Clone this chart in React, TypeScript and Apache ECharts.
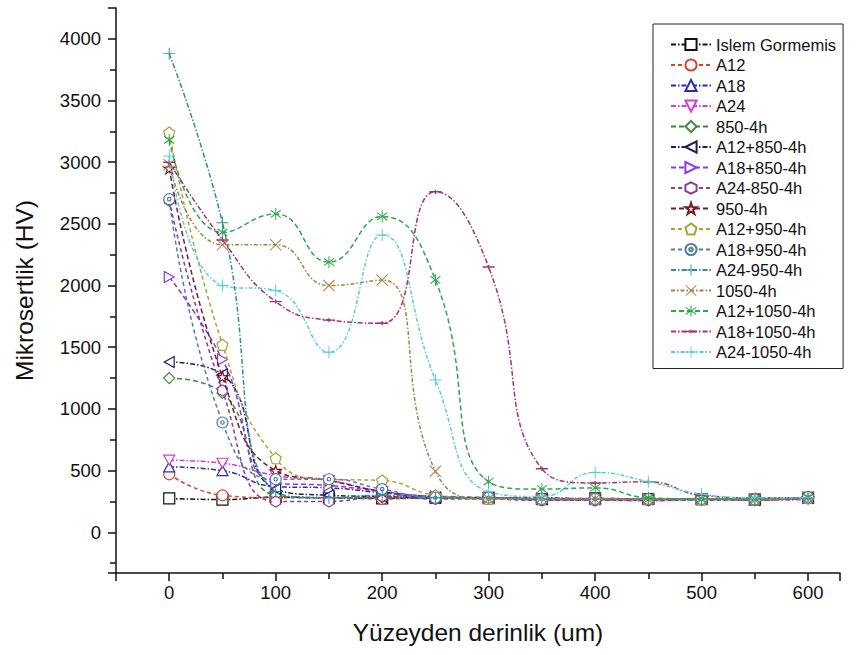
import React, { useEffect, useRef } from "react";
import * as echarts from "echarts";

// ---- data ----
const depths = [0, 50, 100, 150, 200, 250, 300, 350, 400, 450, 500, 550, 600];

const islemGormemis = [275, 265, 285, 280, 275, 280, 280, 270, 275, 270, 270, 265, 280];
const a12 = [470, 300, 280, 280, 270, 280, 270, 260, 260, 260, 270, 270, 280];
const a18 = [530, 500, 370, 360, 320, 290, 280, 280, 270, 270, 270, 265, 280];
const a24 = [585, 560, 460, 420, 330, 280, 280, 260, 260, 255, 265, 260, 265];
const t850 = [1250, 1130, 300, 280, 280, 290, 280, 270, 270, 265, 270, 270, 285];
const a12t850 = [1380, 1280, 350, 300, 290, 280, 280, 270, 270, 270, 270, 265, 280];
const a18t850 = [2070, 1400, 400, 380, 330, 290, 280, 270, 270, 270, 265, 265, 280];
const a24t850 = [2690, 1150, 250, 250, 290, 270, 270, 260, 260, 260, 260, 260, 280];
const t950 = [2950, 1260, 500, 420, 330, 280, 280, 270, 270, 270, 270, 265, 280];
const a12t950 = [3240, 1520, 600, 430, 420, 300, 270, 270, 270, 270, 265, 265, 280];
const a18t950 = [2700, 890, 430, 430, 350, 280, 280, 270, 270, 270, 270, 265, 285];
const a24t950 = [3880, 2510, 330, 280, 300, 280, 280, 270, 270, 270, 270, 270, 280];
const t1050 = [2980, 2330, 2330, 2000, 2045, 495, 270, 280, 270, 270, 270, 265, 280];
const a12t1050 = [3180, 2430, 2580, 2190, 2560, 2045, 410, 350, 360, 280, 270, 270, 280];
const a18t1050 = [3000, 2370, 1870, 1720, 1695, 2760, 2150, 515, 400, 410, 300, 280, 280];
const a24t1050 = [3050, 2000, 1960, 1460, 2410, 1235, 330, 290, 485, 410, 310, 280, 280];

const seriesNames = [
  "Islem Gormemis", "A12", "A18", "A24", "850-4h", "A12+850-4h", "A18+850-4h",
  "A24-850-4h", "950-4h", "A12+950-4h", "A18+950-4h", "A24-950-4h", "1050-4h",
  "A12+1050-4h", "A18+1050-4h", "A24-1050-4h",
];
const seriesValues = [
  islemGormemis, a12, a18, a24, t850, a12t850, a18t850, a24t850, t950, a12t950,
  a18t950, a24t950, t1050, a12t1050, a18t1050, a24t1050,
];

// ---- styles ----
const colors = [
  "#111111", "#d9442b", "#2b2bb5", "#d63bd6", "#3d8a3d", "#1c1c5e", "#8a3be0",
  "#8b3aa0", "#7a1a2a", "#a9a335", "#4d7ea8", "#2f8f9d", "#b07d45", "#2aa84a",
  "#a8336e", "#4fcfd8",
];

// tiny corner dots keep the symbol's bounding box square
const BOX = "M0,0 L0.01,0 L0.01,0.01 Z M9.99,9.99 L10,9.99 L10,10 Z ";
const P = {
  square: "path://M0,0 L10,0 L10,10 L0,10 Z",
  circle: "path://M10,5 A5,5 0 1 1 0,5 A5,5 0 1 1 10,5 Z",
  triUp: "path://M5,0 L10,9 L0,9 Z",
  triDown: "path://M0,0 L10,0 L5,9 Z",
  diamond: "path://M5,0 L10,5 L5,10 L0,5 Z",
  triLeft: "path://M0,5 L9,0 L9,10 Z",
  triRight: "path://M0,0 L9,5 L0,10 Z",
  hexagon: "path://M5,0 L9.33,2.5 L9.33,7.5 L5,10 L0.67,7.5 L0.67,2.5 Z",
  star: "path://M5,0 L6.2,3.6 L10,3.6 L6.9,5.9 L8.1,9.5 L5,7.3 L1.9,9.5 L3.1,5.9 L0,3.6 L3.8,3.6 Z",
  pentagon: "path://M5,0 L10,3.8 L8.1,10 L1.9,10 L0,3.8 Z",
  dotCircle: "path://M10,5 A5,5 0 1 1 0,5 A5,5 0 1 1 10,5 Z M6.6,5 A1.6,1.6 0 1 1 3.4,5 A1.6,1.6 0 1 1 6.6,5 Z",
  plus: "path://M4.6,0 L5.4,0 L5.4,4.6 L10,4.6 L10,5.4 L5.4,5.4 L5.4,10 L4.6,10 L4.6,5.4 L0,5.4 L0,4.6 L4.6,4.6 Z",
  cross: "path://M0.6,0 L5,4.4 L9.4,0 L10,0.6 L5.6,5 L10,9.4 L9.4,10 L5,5.6 L0.6,10 L0,9.4 L4.4,5 L0,0.6 Z",
  asterisk: "path://M4.6,0 L5.4,0 L5.4,4.1 L8.9,1.5 L9.4,2.2 L5.9,4.8 L9.4,7.6 L8.9,8.3 L5.4,5.7 L5.4,10 L4.6,10 L4.6,5.7 L1.1,8.3 L0.6,7.6 L4.1,4.8 L0.6,2.2 L1.1,1.5 L4.6,4.1 Z",
  dash: "path://" + BOX + "M0,4.4 L10,4.4 L10,5.6 L0,5.6 Z M4.5,3.2 L5.5,3.2 L5.5,6.8 L4.5,6.8 Z",
};

const symbols = [
  P.square, P.circle, P.triUp, P.triDown, P.diamond, P.triLeft, P.triRight,
  P.hexagon, P.star, P.pentagon, P.dotCircle, P.plus, P.cross, P.asterisk,
  P.dash, P.plus,
];
const filled = [
  false, false, false, false, false, false, false, false, false, false, false,
  true, true, true, true, true,
];
const dashes: number[][] = [
  [5, 2, 1.5, 2], [4, 3], [5, 2, 1.5, 2], [5, 2, 1.5, 2], [5, 3], [5, 2, 1.5, 2],
  [5, 3], [4, 3], [5, 3], [4, 3], [4, 3], [5, 2, 1.5, 2], [4, 2, 1.5, 2], [5, 3],
  [5, 2, 1.5, 2], [4, 2, 1.5, 2],
];

const FONT = "'Liberation Sans', Arial, sans-serif";
const plain = (v: number) => String(v);

export default function App() {
  const ref = useRef<HTMLDivElement>(null);
  useEffect(() => {
    if (!ref.current) return;
    const chart = echarts.init(ref.current, undefined, { renderer: "svg" });
    const series = seriesNames.map((name, i) => ({
      name,
      type: "line",
      data: depths.map((d, j) => [d, seriesValues[i][j]]),
      smooth: 0.5,
      symbol: symbols[i],
      symbolKeepAspect: true,
      symbolSize: filled[i] ? 12 : 11,
      showAllSymbol: true,
      lineStyle: { color: colors[i], width: 1.5, type: dashes[i] },
      itemStyle: filled[i]
        ? { color: colors[i], borderWidth: 0 }
        : { color: "#ffffff", borderColor: colors[i], borderWidth: 1.2 },
      emphasis: { disabled: true },
      z: 2 + i,
    }));
    chart.setOption({
      animation: false,
      backgroundColor: "#ffffff",
      grid: { left: 116, right: 20, top: 8, bottom: 82, containLabel: false },
      legend: {
        orient: "vertical",
        left: 653,
        top: 24,
        padding: [12, 7, 8, 17],
        borderColor: "#222",
        borderWidth: 1,
        itemWidth: 40,
        itemHeight: 14,
        itemGap: 3.5,
        textStyle: { fontFamily: FONT, fontSize: 16.5, color: "#111", lineHeight: 16 },
        data: seriesNames,
      },
      xAxis: {
        type: "value",
        min: -50,
        max: 630,
        splitNumber: 7,
        name: "Yüzeyden derinlik (um)",
        nameLocation: "middle",
        nameGap: 47,
        nameTextStyle: { fontFamily: FONT, fontSize: 24.5, color: "#111" },
        axisLine: { onZero: false, lineStyle: { color: "#111", width: 1.5 } },
        axisTick: { inside: false, length: 8, lineStyle: { color: "#111", width: 1.5 } },
        minorTick: { show: true, splitNumber: 2, length: 6, lineStyle: { color: "#111", width: 1.5 } },
        axisLabel: {
          fontFamily: FONT, fontSize: 18.5, color: "#111", margin: 10, formatter: plain,
          showMinLabel: false, showMaxLabel: false,
        },
        splitLine: { show: false },
      },
      yAxis: {
        type: "value",
        min: -330,
        max: 4250,
        splitNumber: 9,
        name: "Mikrosertlik (HV)",
        nameLocation: "middle",
        nameGap: 79,
        nameTextStyle: { fontFamily: FONT, fontSize: 24.5, color: "#111" },
        axisLine: { show: true, onZero: false, lineStyle: { color: "#111", width: 1.5 } },
        axisTick: { show: true, inside: false, length: 8, lineStyle: { color: "#111", width: 1.5 } },
        minorTick: { show: true, splitNumber: 2, length: 6, lineStyle: { color: "#111", width: 1.5 } },
        axisLabel: {
          fontFamily: FONT, fontSize: 18.5, color: "#111", margin: 15, formatter: plain,
          showMinLabel: false, showMaxLabel: false,
        },
        splitLine: { show: false },
      },
      series,
    });
    return () => chart.dispose();
  }, []);
  return <div ref={ref} style={{ width: 860, height: 655, position: "absolute", left: 0, top: 0 }} />;
}
